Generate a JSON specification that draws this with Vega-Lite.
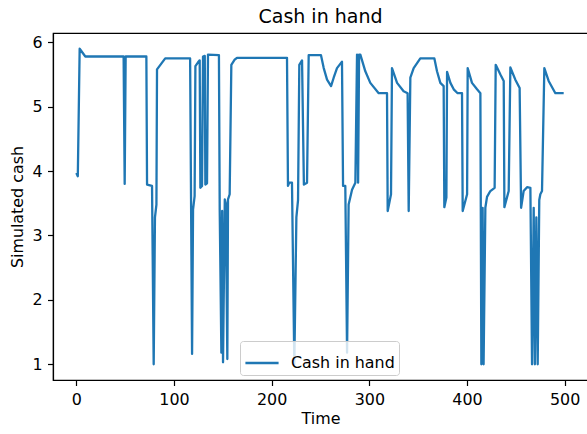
{
  "$schema": "https://vega.github.io/schema/vega-lite/v6.json",
  "width": 535,
  "height": 347,
  "autosize": {"type": "none"},
  "padding": {"left": 53, "top": 33, "right": 0, "bottom": 54},
  "background": "white",
  "title": {"text": "Cash in hand", "fontSize": 19, "font": "DejaVu Sans", "fontWeight": "normal", "color": "black", "offset": 6},
  "data": {"values": [
    {"time": 0, "cash": 3.97}, {"time": 1.5, "cash": 3.92}, {"time": 3.4, "cash": 5.9}, {"time": 9.2, "cash": 5.78},
    {"time": 48.4, "cash": 5.78}, {"time": 49.5, "cash": 3.8}, {"time": 50.5, "cash": 5.78},
    {"time": 71.7, "cash": 5.78}, {"time": 72.4, "cash": 3.79}, {"time": 77.5, "cash": 3.77}, {"time": 79.2, "cash": 1.0},
    {"time": 80.5, "cash": 3.28}, {"time": 82, "cash": 3.48}, {"time": 82.6, "cash": 5.58}, {"time": 91, "cash": 5.75},
    {"time": 116.5, "cash": 5.75}, {"time": 118.5, "cash": 1.16}, {"time": 119.5, "cash": 3.4}, {"time": 121.1, "cash": 3.61},
    {"time": 121.9, "cash": 5.63}, {"time": 124.6, "cash": 5.69}, {"time": 126.3, "cash": 5.72}, {"time": 127, "cash": 3.74},
    {"time": 128.7, "cash": 3.77}, {"time": 129.7, "cash": 5.78}, {"time": 131.5, "cash": 5.79}, {"time": 132.1, "cash": 3.79},
    {"time": 133.8, "cash": 3.81}, {"time": 134.8, "cash": 5.81},
    {"time": 146, "cash": 5.8}, {"time": 146.8, "cash": 3.4}, {"time": 148.5, "cash": 1.18}, {"time": 149.3, "cash": 3.38},
    {"time": 150.2, "cash": 1.03}, {"time": 152, "cash": 3.56}, {"time": 153, "cash": 3.5}, {"time": 154.6, "cash": 1.08},
    {"time": 155.3, "cash": 3.56}, {"time": 157, "cash": 3.64}, {"time": 158.7, "cash": 5.65}, {"time": 162.1, "cash": 5.73},
    {"time": 164.5, "cash": 5.76}, {"time": 215.7, "cash": 5.76}, {"time": 216.7, "cash": 3.77}, {"time": 218, "cash": 3.82},
    {"time": 220.8, "cash": 3.82}, {"time": 223.2, "cash": 1.0}, {"time": 225.3, "cash": 3.28}, {"time": 227, "cash": 3.55},
    {"time": 228.3, "cash": 5.65}, {"time": 231.1, "cash": 5.72}, {"time": 233, "cash": 3.79}, {"time": 236.2, "cash": 3.82},
    {"time": 237.9, "cash": 5.8}, {"time": 250.5, "cash": 5.8}, {"time": 253.3, "cash": 5.6}, {"time": 256.7, "cash": 5.42},
    {"time": 260.8, "cash": 5.32}, {"time": 263.5, "cash": 5.45}, {"time": 266.9, "cash": 5.6}, {"time": 272, "cash": 5.7},
    {"time": 273.1, "cash": 3.77}, {"time": 275.4, "cash": 3.77}, {"time": 277.2, "cash": 1.18}, {"time": 278.8, "cash": 3.48},
    {"time": 282.3, "cash": 3.71}, {"time": 285.7, "cash": 3.82}, {"time": 287.4, "cash": 5.81}, {"time": 288.5, "cash": 3.82},
    {"time": 289.5, "cash": 5.81}, {"time": 290.8, "cash": 5.81}, {"time": 295.9, "cash": 5.55}, {"time": 301, "cash": 5.37},
    {"time": 309.6, "cash": 5.21}, {"time": 318.1, "cash": 5.21}, {"time": 318.8, "cash": 3.38}, {"time": 322.2, "cash": 3.64},
    {"time": 323.2, "cash": 5.6}, {"time": 328.4, "cash": 5.37}, {"time": 335.1, "cash": 5.24}, {"time": 339.2, "cash": 5.21},
    {"time": 340.3, "cash": 3.38}, {"time": 342, "cash": 5.45}, {"time": 345.4, "cash": 5.6}, {"time": 352.2, "cash": 5.75},
    {"time": 366.6, "cash": 5.75}, {"time": 369.3, "cash": 5.55}, {"time": 372.7, "cash": 5.37}, {"time": 376.1, "cash": 5.32},
    {"time": 376.8, "cash": 3.44}, {"time": 378.9, "cash": 3.59}, {"time": 379.6, "cash": 5.54}, {"time": 383, "cash": 5.37},
    {"time": 386.4, "cash": 5.27}, {"time": 390.4, "cash": 5.21}, {"time": 394.9, "cash": 5.21}, {"time": 395.6, "cash": 3.38},
    {"time": 400.1, "cash": 3.64}, {"time": 400.7, "cash": 5.6}, {"time": 405.1, "cash": 5.37}, {"time": 410.3, "cash": 5.27},
    {"time": 413.7, "cash": 5.21}, {"time": 414.7, "cash": 1.0}, {"time": 416, "cash": 3.43}, {"time": 417, "cash": 1.0},
    {"time": 418.8, "cash": 3.43}, {"time": 420.5, "cash": 3.6}, {"time": 423.9, "cash": 3.69}, {"time": 428.3, "cash": 3.74},
    {"time": 429.4, "cash": 5.65}, {"time": 434.2, "cash": 5.5}, {"time": 437.6, "cash": 5.4}, {"time": 438.3, "cash": 3.44},
    {"time": 442.7, "cash": 3.69}, {"time": 444.4, "cash": 5.61}, {"time": 449.5, "cash": 5.42}, {"time": 453.9, "cash": 5.29},
    {"time": 455.4, "cash": 3.43}, {"time": 458, "cash": 3.69}, {"time": 461.5, "cash": 3.75}, {"time": 464.9, "cash": 3.74},
    {"time": 466.6, "cash": 1.0}, {"time": 468.3, "cash": 3.43}, {"time": 469.5, "cash": 1.0}, {"time": 471, "cash": 3.28},
    {"time": 472.4, "cash": 1.0}, {"time": 474, "cash": 3.55}, {"time": 475.1, "cash": 3.64}, {"time": 476.8, "cash": 3.69},
    {"time": 479.2, "cash": 5.6}, {"time": 483.6, "cash": 5.4}, {"time": 490.5, "cash": 5.21}, {"time": 499, "cash": 5.21}
  ]},
  "mark": {"type": "line", "strokeWidth": 2.3, "clip": true, "strokeJoin": "round"},
  "encoding": {
    "x": {"field": "time", "type": "quantitative", "scale": {"domain": [-23.9, 523.9], "nice": false, "zero": false},
          "axis": {"values": [0, 100, 200, 300, 400, 500], "title": "Time"}},
    "y": {"field": "cash", "type": "quantitative", "scale": {"domain": [0.755, 6.145], "nice": false, "zero": false},
          "axis": {"values": [1, 2, 3, 4, 5, 6], "title": "Simulated cash"}},
    "color": {"datum": "Cash in hand", "scale": {"range": ["#1f77b4"]},
              "legend": {"title": null, "orient": "none", "legendX": 187, "legendY": 308,
                         "fillColor": "rgba(255,255,255,0.8)", "strokeColor": "#cccccc", "cornerRadius": 3, "padding": 4,
                         "symbolType": "stroke", "symbolSize": 1100, "symbolStrokeWidth": 2.3,
                         "labelFontSize": 15.9, "labelFont": "DejaVu Sans", "labelColor": "black", "labelOffset": 11}}
  },
  "config": {
    "font": "DejaVu Sans",
    "view": {"stroke": "black", "strokeWidth": 1.2},
    "axis": {"domainColor": "black", "domainWidth": 1.2, "tickColor": "black", "tickWidth": 1.2, "tickSize": 5.5,
             "labelFontSize": 15.9, "labelColor": "black", "labelFont": "DejaVu Sans", "labelPadding": 5.5,
             "titleFontSize": 15.9, "titleFontWeight": "normal", "titleColor": "black", "titleFont": "DejaVu Sans", "grid": false},
    "axisX": {"labelAngle": 0, "titlePadding": 4},
    "axisY": {"titlePadding": 6}
  }
}
